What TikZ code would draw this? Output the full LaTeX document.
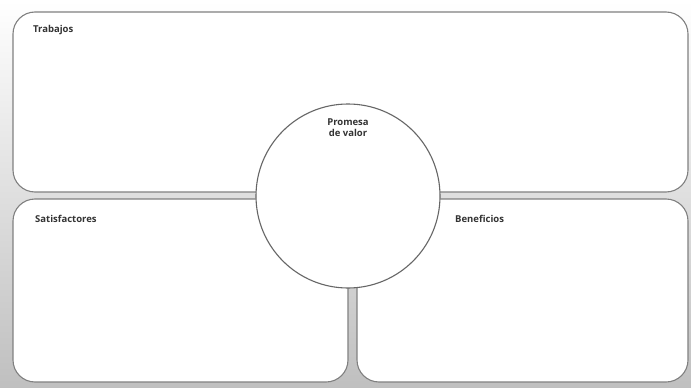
\documentclass[tikz,border=0pt]{standalone}
\usepackage{fontspec}
\setmainfont{Open Sans}
\begin{document}
\begin{tikzpicture}[x=1pt,y=-1pt,
  panel/.style={draw=black!50, line width=1.1pt, fill=white, rounded corners=22pt},
  label/.style={font=\bfseries\fontsize{9.5}{11}\selectfont, text=black!80, anchor=west, inner sep=0pt}]
  % page background: white at the top fading to grey at the bottom
  \shade[top color=white, bottom color=black!25] (0,0) rectangle (691,388);
  \useasboundingbox (0,0) rectangle (691,388);
  % the three panels
  \draw[panel] (13,12) rectangle (688,192);
  \draw[panel] (13,199) rectangle (348,382);
  \draw[panel] (357,199) rectangle (688,382);
  % central value circle
  \node[circle, draw=black!60, line width=1.1pt, fill=white, minimum size=184pt, inner sep=0pt] (vp) at (348,196) {};
  % titles
  \node[label] (trab) at (33,30) {Trabajos};
  \node[label] (sat) at (35,219) {Satisfactores};
  \node[label] (ben) at (455,219) {Beneficios};
  \node[font=\bfseries\fontsize{9.5}{11}\selectfont, text=black!80, align=center, anchor=north, inner sep=0pt] (prom) at (348,119) {Promesa\\de valor};
\end{tikzpicture}
\end{document}
